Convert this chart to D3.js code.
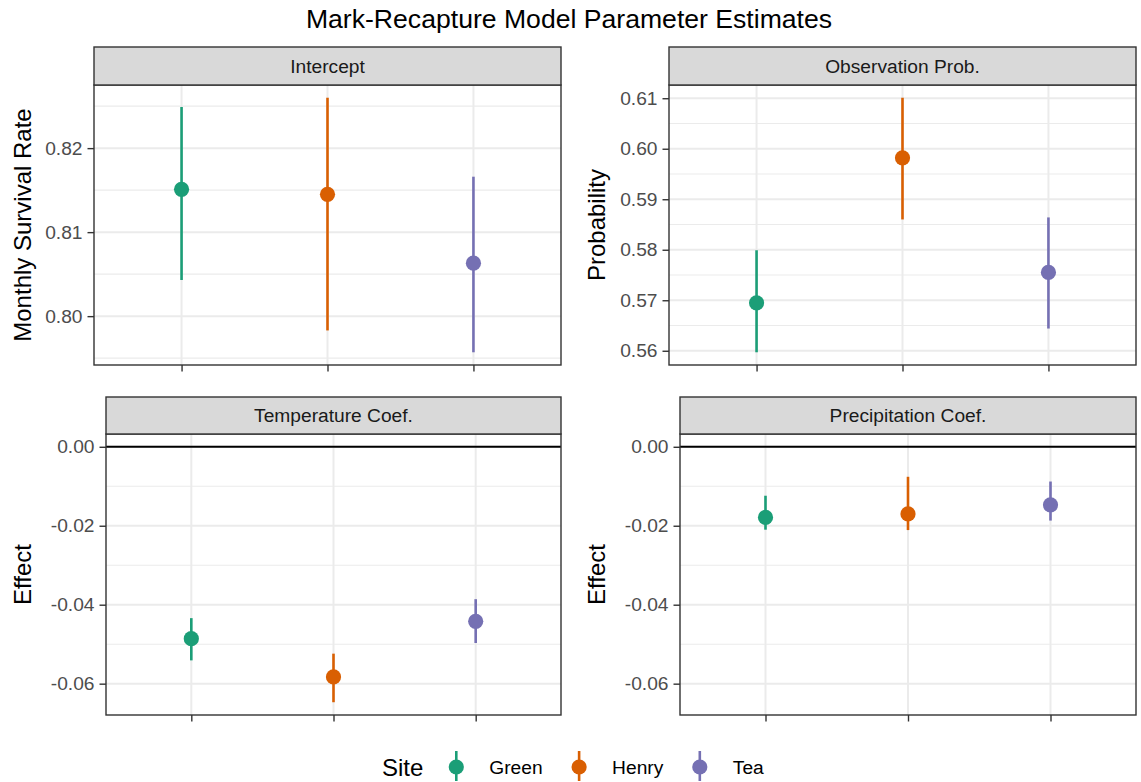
<!DOCTYPE html>
<html>
<head>
<meta charset="utf-8">
<script src="https://cdn.jsdelivr.net/npm/d3@7"></script>
<style>
  html, body { margin: 0; padding: 0; background: #fff; }
  svg { display: block; font-family: "Liberation Sans", Arial, Helvetica, sans-serif; }
</style>
</head>
<body>
<svg id="chart" width="1141" height="782"></svg>
<script>
// Sites and their Dark2 colours
const sites = ["Green", "Henry", "Tea"];
const siteColors = ["#1B9E77", "#D95F02", "#7570B3"];

// Posterior estimates with interval bounds, per parameter, in site order
const interceptEst = [0.8151, 0.8145, 0.8063];
const interceptLo  = [0.8043, 0.7983, 0.7957];
const interceptHi  = [0.8249, 0.8260, 0.8166];

const obsEst = [0.5695, 0.5982, 0.5755];
const obsLo  = [0.5597, 0.5860, 0.5644];
const obsHi  = [0.5799, 0.6101, 0.5864];

const tempEst = [-0.0486, -0.0583, -0.0442];
const tempLo  = [-0.0541, -0.0647, -0.0497];
const tempHi  = [-0.0434, -0.0524, -0.0386];

const precipEst = [-0.0179, -0.0170, -0.0147];
const precipLo  = [-0.0210, -0.0211, -0.0187];
const precipHi  = [-0.0124, -0.0076, -0.0088];

// Panel titles, y-axis titles and tick values
const panelTitles = ["Intercept", "Observation Prob.", "Temperature Coef.", "Precipitation Coef."];
const yTitles = ["Monthly Survival Rate", "Probability", "Effect", "Effect"];
const interceptTicks = [0.80, 0.81, 0.82];
const obsTicks = [0.56, 0.57, 0.58, 0.59, 0.60, 0.61];
const effectTicks = [-0.06, -0.04, -0.02, 0.00];
const chartTitle = "Mark-Recapture Model Parameter Estimates";
const legendTitle = "Site";

const svg = d3.select("#chart");
const FONT_TICK = 19.2, FONT_AXIS = 24, FONT_STRIP = 19.2, FONT_TITLE = 26.6;

// two decimals, plain hyphen for negatives
const fmt2 = d3.formatLocale({ decimal: ".", thousands: ",", grouping: [3], currency: ["", ""], minus: "-" }).format(".2f");

// Expanded domain (5% each side) like a continuous ggplot scale
function expand(values) {
  const [lo, hi] = d3.extent(values);
  const r = hi - lo;
  return [lo - 0.05 * r, hi + 0.05 * r];
}

const bottomDomain = expand([...tempLo, ...tempHi, ...precipLo, ...precipHi, 0]);

const panels = [
  { title: panelTitles[0], ytitle: yTitles[0], est: interceptEst, lo: interceptLo, hi: interceptHi,
    ticks: interceptTicks, domain: expand([...interceptLo, ...interceptHi]), zero: false,
    box: { x0: 94, x1: 561, y0: 85, y1: 365, s0: 47 }, titleX: 31 },
  { title: panelTitles[1], ytitle: yTitles[1], est: obsEst, lo: obsLo, hi: obsHi,
    ticks: obsTicks, domain: expand([...obsLo, ...obsHi]), zero: false,
    box: { x0: 669, x1: 1136, y0: 85, y1: 365, s0: 47 }, titleX: 605 },
  { title: panelTitles[2], ytitle: yTitles[2], est: tempEst, lo: tempLo, hi: tempHi,
    ticks: effectTicks, domain: bottomDomain, zero: true,
    box: { x0: 106, x1: 561, y0: 434, y1: 715, s0: 397 }, titleX: 31 },
  { title: panelTitles[3], ytitle: yTitles[3], est: precipEst, lo: precipLo, hi: precipHi,
    ticks: effectTicks, domain: bottomDomain, zero: true,
    box: { x0: 680, x1: 1136, y0: 434, y1: 715, s0: 397 }, titleX: 605 }
];

panels.forEach(p => {
  const b = p.box;
  const g = svg.append("g");
  const x = d3.scalePoint().domain(sites).range([b.x0, b.x1]).padding(0.6);
  const y = d3.scaleLinear().domain(p.domain).range([b.y1, b.y0]);

  // panel background
  g.append("rect").attr("x", b.x0).attr("y", b.y0).attr("width", b.x1 - b.x0).attr("height", b.y1 - b.y0)
    .attr("fill", "#fff");

  // minor gridlines halfway between major ticks
  const step = p.ticks[1] - p.ticks[0];
  const minor = [];
  for (let v = p.ticks[0] - step / 2; v <= p.domain[1] + 1e-9; v += step) {
    if (v >= p.domain[0]) minor.push(v);
  }
  g.selectAll(".minor").data(minor).enter().append("line")
    .attr("x1", b.x0).attr("x2", b.x1).attr("y1", d => y(d)).attr("y2", d => y(d))
    .attr("stroke", "#ebebeb").attr("stroke-width", 1.1);

  // major gridlines
  g.selectAll(".majorY").data(p.ticks).enter().append("line")
    .attr("x1", b.x0).attr("x2", b.x1).attr("y1", d => y(d)).attr("y2", d => y(d))
    .attr("stroke", "#ebebeb").attr("stroke-width", 2);
  g.selectAll(".majorX").data(sites).enter().append("line")
    .attr("x1", d => x(d)).attr("x2", d => x(d)).attr("y1", b.y0).attr("y2", b.y1)
    .attr("stroke", "#ebebeb").attr("stroke-width", 2);

  // reference line at zero for the coefficient panels
  if (p.zero) {
    g.append("line").attr("x1", b.x0).attr("x2", b.x1).attr("y1", y(0)).attr("y2", y(0))
      .attr("stroke", "#000").attr("stroke-width", 2.2);
  }

  // intervals and point estimates
  const rows = sites.map((s, i) => ({ site: s, est: p.est[i], lo: p.lo[i], hi: p.hi[i], color: siteColors[i] }));
  g.selectAll(".range").data(rows).enter().append("line")
    .attr("x1", d => x(d.site)).attr("x2", d => x(d.site))
    .attr("y1", d => y(d.lo)).attr("y2", d => y(d.hi))
    .attr("stroke", d => d.color).attr("stroke-width", 2.6);
  g.selectAll(".pt").data(rows).enter().append("circle")
    .attr("cx", d => x(d.site)).attr("cy", d => y(d.est)).attr("r", 7.6)
    .attr("fill", d => d.color);

  // panel border
  g.append("rect").attr("x", b.x0).attr("y", b.y0).attr("width", b.x1 - b.x0).attr("height", b.y1 - b.y0)
    .attr("fill", "none").attr("stroke", "#333").attr("stroke-width", 1.4);

  // strip
  g.append("rect").attr("x", b.x0).attr("y", b.s0).attr("width", b.x1 - b.x0).attr("height", b.y0 - b.s0)
    .attr("fill", "#d9d9d9").attr("stroke", "#333").attr("stroke-width", 1.4);
  g.append("text").attr("x", (b.x0 + b.x1) / 2).attr("y", (b.s0 + b.y0) / 2 + 6.8)
    .attr("text-anchor", "middle").attr("font-size", FONT_STRIP).attr("fill", "#1a1a1a").text(p.title);

  // y axis
  const ya = g.append("g").attr("transform", `translate(${b.x0},0)`)
    .call(d3.axisLeft(y).tickValues(p.ticks).tickFormat(fmt2).tickSize(6.5).tickPadding(5));
  ya.select(".domain").remove();
  ya.selectAll(".tick line").attr("stroke", "#333").attr("stroke-width", 1.4);
  ya.selectAll(".tick text").attr("font-size", FONT_TICK).attr("fill", "#4d4d4d")
    .attr("font-family", "Liberation Sans, Arial, sans-serif");

  // x axis: ticks only
  const xa = g.append("g").attr("transform", `translate(0,${b.y1})`)
    .call(d3.axisBottom(x).tickFormat("").tickSize(6.5));
  xa.select(".domain").remove();
  xa.selectAll(".tick line").attr("stroke", "#333").attr("stroke-width", 1.4);

  // y axis title
  g.append("text").attr("transform", `translate(${p.titleX},${(b.y0 + b.y1) / 2}) rotate(-90)`)
    .attr("text-anchor", "middle").attr("font-size", FONT_AXIS).attr("fill", "#000").text(p.ytitle);
});

// overall title
svg.append("text").attr("x", 569).attr("y", 27.5).attr("text-anchor", "middle")
  .attr("font-size", FONT_TITLE).attr("fill", "#000").text(chartTitle);

// legend
const legend = svg.append("g");
const legY = 767;
const lt = legend.append("text").attr("x", 0).attr("y", legY + 8.6).attr("font-size", FONT_AXIS)
  .attr("fill", "#000").text(legendTitle);
let cx = lt.node().getComputedTextLength() + 33;
sites.forEach((s, i) => {
  legend.append("line").attr("x1", cx).attr("x2", cx).attr("y1", legY - 16).attr("y2", legY + 14)
    .attr("stroke", siteColors[i]).attr("stroke-width", 2.6);
  legend.append("circle").attr("cx", cx).attr("cy", legY).attr("r", 7.6).attr("fill", siteColors[i]);
  const t = legend.append("text").attr("x", cx + 33).attr("y", legY + 6.8).attr("font-size", FONT_TICK)
    .attr("fill", "#000").text(s);
  cx = cx + 33 + t.node().getComputedTextLength() + 36.5;
});
const lw = legend.node().getBBox().width;
legend.attr("transform", `translate(${573 - lw / 2},0)`);
</script>
</body>
</html>
